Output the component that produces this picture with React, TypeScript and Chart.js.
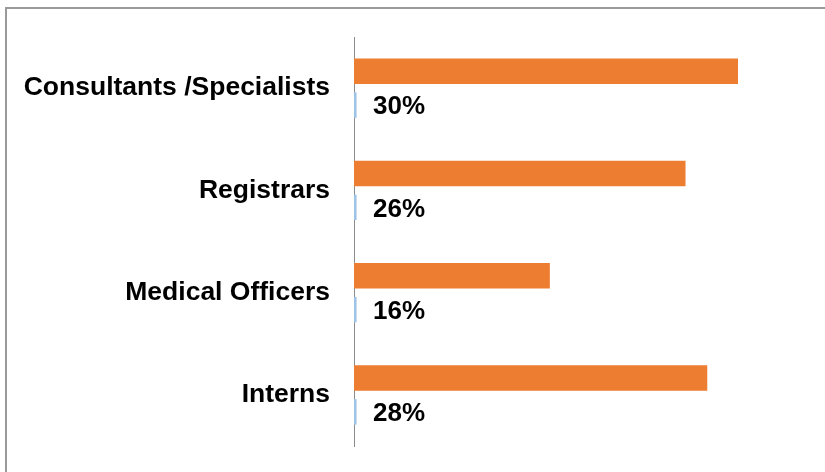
import React, { useEffect, useRef } from "react";
import { Chart, registerables } from "chart.js";

Chart.register(...registerables);

const categories = ["Consultants /Specialists", "Registrars", "Medical Officers", "Interns"];
const mainValues = [30.0, 25.9, 15.3, 27.6];
const minorValues = [0.2, 0.2, 0.2, 0.2];
const valueLabels = ["30%", "26%", "16%", "28%"];

const FONT = "'Liberation Sans', Arial, sans-serif";

const labelPlugin = {
  id: "valueLabels",
  afterDatasetsDraw(chart: any) {
    const meta = chart.getDatasetMeta(1);
    const ctx = chart.ctx;
    ctx.save();
    ctx.font = `bold 26px ${FONT}`;
    ctx.fillStyle = "#000000";
    ctx.textAlign = "left";
    ctx.textBaseline = "middle";
    meta.data.forEach((el: any, i: number) => {
      ctx.fillText(valueLabels[i], chart.chartArea.left + 19, el.y + 2);
    });
    ctx.restore();
  },
};

export default function App() {
  const ref = useRef<HTMLCanvasElement | null>(null);
  useEffect(() => {
    if (!ref.current) return;
    const chart = new Chart(ref.current, {
      type: "bar",
      data: {
        labels: categories,
        datasets: [
          {
            data: mainValues,
            backgroundColor: "#ED7D31",
            categoryPercentage: 0.665,
            barPercentage: 0.75,
          },
          {
            data: minorValues,
            backgroundColor: "#9DC3E6",
            categoryPercentage: 0.665,
            barPercentage: 0.75,
          },
        ],
      },
      options: {
        indexAxis: "y",
        animation: false,
        responsive: false,
        devicePixelRatio: 1,
        layout: { padding: { left: 0, top: 37, bottom: 26, right: 23 } },
        plugins: { legend: { display: false }, tooltip: { enabled: false } },
        scales: {
          x: { display: false, min: 0, max: 35 },
          y: {
            afterFit: (scale: any) => {
              scale.width = 354;
              scale.paddingTop = 0;
              scale.paddingBottom = 0;
            },
            grid: { display: false, drawTicks: false },
            border: { display: true, color: "#8c8c8c", width: 1 },
            ticks: {
              padding: 24,
              color: "#000000",
              font: { family: FONT, size: 26.5, weight: "bold" },
            },
          },
        },
      },
      plugins: [labelPlugin],
    } as any);
    return () => chart.destroy();
  }, []);
  return (
    <div
      style={{
        position: "fixed",
        left: 0,
        top: 0,
        width: 825,
        height: 472,
        overflow: "hidden",
        background: "#ffffff",
      }}
    >
      <div
        style={{
          position: "absolute",
          left: 5,
          top: 7,
          width: 900,
          height: 600,
          borderLeft: "2px solid #9a9a9a",
          borderTop: "2px solid #9a9a9a",
        }}
      />
      <canvas
        ref={ref}
        width={825}
        height={472}
        style={{ position: "absolute", left: 0, top: 0, width: 825, height: 472 }}
      />
    </div>
  );
}
